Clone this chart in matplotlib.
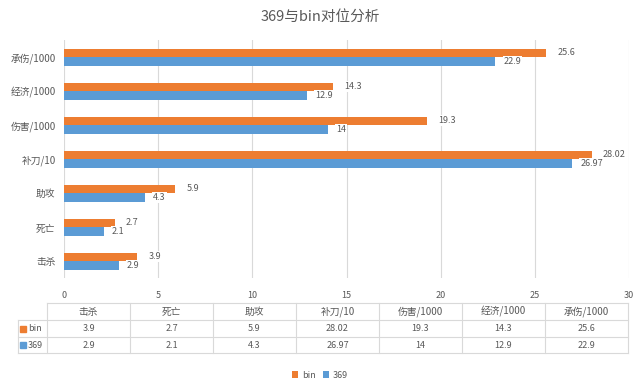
import numpy as np
import matplotlib
matplotlib.use('Agg')
import matplotlib.pyplot as plt
from matplotlib.patches import Rectangle

plt.rcParams['font.family'] = ['Noto Sans CJK SC', 'DejaVu Sans']

# datos
categorias = ['击杀', '死亡', '助攻', '补刀/10', '伤害/1000', '经济/1000', '承伤/1000']
bin_vals = [3.9, 2.7, 5.9, 28.02, 19.3, 14.3, 25.6]
v369_vals = [2.9, 2.1, 4.3, 26.97, 14, 12.9, 22.9]
bin_txt = ['3.9', '2.7', '5.9', '28.02', '19.3', '14.3', '25.6']
v369_txt = ['2.9', '2.1', '4.3', '26.97', '14', '12.9', '22.9']
series = ['bin', '369']
x_ticks = [0, 5, 10, 15, 20, 25, 30]

c_bin = '#ED7D31'
c_369 = '#5B9BD5'
gris = '#595959'
linea = '#d9d9d9'

fig = plt.figure(figsize=(6.4, 3.92), dpi=100)
ax = fig.add_axes([64 / 640, 1 - 278 / 392, (629 - 64) / 640, (278 - 40) / 392])

y = np.arange(len(categorias))
h = 0.25
b1 = ax.barh(y + h / 2, bin_vals, height=h, color=c_bin, label='bin', zorder=3)
b2 = ax.barh(y - h / 2, v369_vals, height=h, color=c_369, label='369', zorder=3)

for i in range(len(categorias)):
    ax.annotate(bin_txt[i], (bin_vals[i], y[i] + h / 2), xytext=(8, 0), textcoords='offset points',
                va='center', ha='left', fontsize=6.5, color=gris, zorder=5,
                bbox=dict(boxstyle='square,pad=0.1', fc='white', ec='none'))
    ax.annotate(v369_txt[i], (v369_vals[i], y[i] - h / 2), xytext=(6, 0), textcoords='offset points',
                va='center', ha='left', fontsize=6.5, color=gris, zorder=5,
                bbox=dict(boxstyle='square,pad=0.1', fc='white', ec='none'))

ax.set_xlim(0, 30)
ax.set_ylim(-0.5, len(categorias) - 0.5)
ax.set_xticks(x_ticks)
ax.set_yticks(y)
ax.set_yticklabels(categorias)
ax.tick_params(axis='both', length=0, colors=gris, labelsize=7)
ax.tick_params(axis='x', pad=9, labelsize=6.5)
ax.tick_params(axis='y', pad=6)
ax.grid(axis='x', color=linea, linewidth=0.8, zorder=0)
for s in ax.spines.values():
    s.set_visible(False)

fig.text(0.5, 1 - 17 / 392, '369与bin对位分析', ha='center', va='center', fontsize=10.5, color=gris)

# tabla de datos
tab = fig.add_axes([0, 0, 1, 1], facecolor='none')
tab.set_xlim(0, 640)
tab.set_ylim(392, 0)
tab.axis('off')

x0, xk, cw = 47, 18, 83.0
rows = [303, 320, 337, 353]
xr = x0 + cw * len(categorias)
tab.plot([x0, xr], [rows[0], rows[0]], color=linea, lw=0.8)
for r in rows[1:]:
    tab.plot([xk, xr], [r, r], color=linea, lw=0.8)
for j in range(len(categorias) + 1):
    xx = x0 + cw * j
    tab.plot([xx, xx], [rows[0], rows[-1]], color=linea, lw=0.8)
tab.plot([xk, xk], [rows[1], rows[-1]], color=linea, lw=0.8)

for j, c in enumerate(categorias):
    xc = x0 + cw * (j + 0.5)
    tab.text(xc, (rows[0] + rows[1]) / 2, c, ha='center', va='center', fontsize=7, color=gris)
    tab.text(xc, (rows[1] + rows[2]) / 2, bin_txt[j], ha='center', va='center', fontsize=6.5, color=gris)
    tab.text(xc, (rows[2] + rows[3]) / 2, v369_txt[j], ha='center', va='center', fontsize=6.5, color=gris)

for k, (nom, col) in enumerate(zip(series, [c_bin, c_369])):
    yc = (rows[k + 1] + rows[k + 2]) / 2
    tab.add_patch(Rectangle((20, yc - 3), 6, 6, color=col))
    tab.text(28, yc, nom, ha='left', va='center', fontsize=6.5, color=gris)

fig.legend(handles=[b1, b2], loc='center', bbox_to_anchor=(0.5, 1 - 375 / 392), ncol=2,
           frameon=False, fontsize=6.5, handlelength=0.7, handleheight=0.7,
           handletextpad=0.4, columnspacing=0.8, labelcolor=gris)

fig.savefig('out.png', dpi=100, facecolor='white')
